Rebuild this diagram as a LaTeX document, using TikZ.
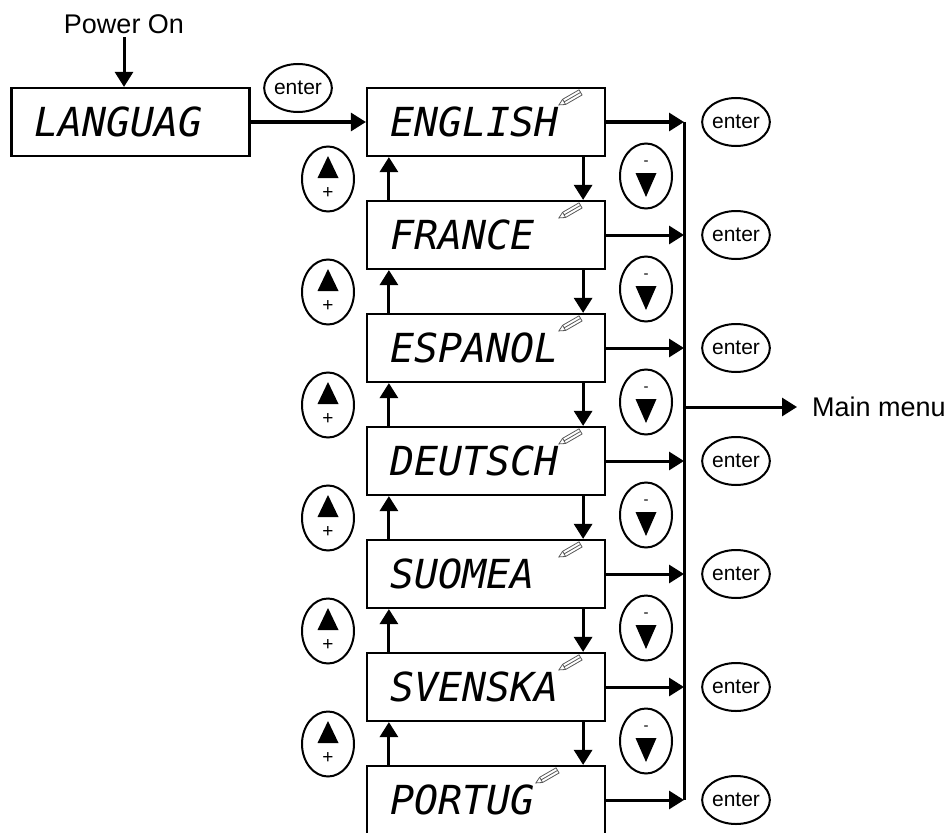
\documentclass[tikz,border=0pt]{standalone}
\usepackage{fontspec}
\setmainfont{Liberation Sans}
\newfontfamily\lcdfont{DejaVu Sans Mono}
\usetikzlibrary{positioning,shapes.geometric,arrows.meta,calc}

\begin{document}
\begin{tikzpicture}[
  x=1pt,y=-1pt,
  lcd/.style={rectangle,draw,line width=2.2pt,minimum width=238pt,minimum height=68pt,text width=192pt,inner xsep=23pt,align=left,font={\lcdfont\itshape\fontsize{40pt}{40pt}\selectfont}},
  enterkey/.style={ellipse,draw,line width=2pt,minimum width=54pt,minimum height=48pt,inner sep=0pt,font={\fontsize{21pt}{21pt}\selectfont}},
  arrowkey/.style={ellipse,draw,line width=2pt,minimum width=52pt,minimum height=65pt},
  sign/.style={inner sep=0pt,font={\fontsize{19pt}{19pt}\selectfont}},
  arr/.style={line width=3pt,-{Triangle[length=15pt,width=18pt]}},
  pencil/.pic={
    \draw[black!65,line width=0.8pt,fill=white] (0pt,0pt) -- (6pt,3pt) -- (25pt,3pt) -- (25pt,-3pt) -- (6pt,-3pt) -- cycle;
    \draw[black!65,line width=0.8pt] (6pt,3pt) -- (6pt,-3pt) (6pt,0pt) -- (25pt,0pt);
  },
]
\useasboundingbox (0,0) rectangle (952,832);

% start
\node (power) [font={\fontsize{27pt}{27pt}\selectfont}] at (124,24) {Power On};
\node (lang) [lcd,minimum width=237pt] at (130.5,122) {LANGUAG};
\node (enter0) [enterkey] at (298,88) {enter};
\draw[arr] (power.south) -- (power.south |- lang.north);

% language list
\coordinate (bustop) at (684,122);
\coordinate (busbot) at (684,800);
\coordinate (busmid) at (684,407);
\foreach \word/\px [count=\i from 0] in {ENGLISH/193,FRANCE/193,ESPANOL/193,DEUTSCH/193,SUOMEA/193,SVENSKA/193,PORTUG/170} {
  \node (disp\i) [lcd] at (486,122+113*\i) {\word};
  \pic[rotate=30] at ($(disp\i.north west)+(\px,18)$) {pencil};
  \node (enter\i) [enterkey] at (736,122+113*\i) {enter};
  \draw[arr] (disp\i.east) -- (disp\i.east -| bustop);
}
\draw[arr] (lang.east) -- (disp0.west);

% +/- keys
\foreach \i [count=\j from 1] in {0,...,5} {
  \draw[arr] ($(disp\j.north west)+(23,0)$) -- ($(disp\i.south west)+(23,0)$);
  \draw[arr] ($(disp\i.south east)+(-23,0)$) -- ($(disp\j.north east)+(-23,0)$);
  \node (up\j) [arrowkey] at (328,179+113*\i) {};
  \fill ($(up\j.center)+(0,-23)$) -- ($(up\j.center)+(10.5,-1)$) -- ($(up\j.center)+(-10.5,-1)$) -- cycle;
  \node [sign] at ($(up\j.center)+(0,14)$) {+};
  \node (down\j) [arrowkey] at (646,176+113*\i) {};
  \node [sign,font={\fontsize{15pt}{15pt}\selectfont}] at ($(down\j.center)+(0,-13)$) {-};
  \fill ($(down\j.center)+(0,21)$) -- ($(down\j.center)+(10.5,-3)$) -- ($(down\j.center)+(-10.5,-3)$) -- cycle;
}

% exit
\draw[line width=3pt] (bustop) -- (busbot);
\node (menu) [anchor=west,inner sep=2pt,font={\fontsize{27pt}{27pt}\selectfont}] at (810,407) {Main menu};
\draw[arr,shorten >=13pt] (busmid) -- (menu.west);
\end{tikzpicture}
\end{document}
